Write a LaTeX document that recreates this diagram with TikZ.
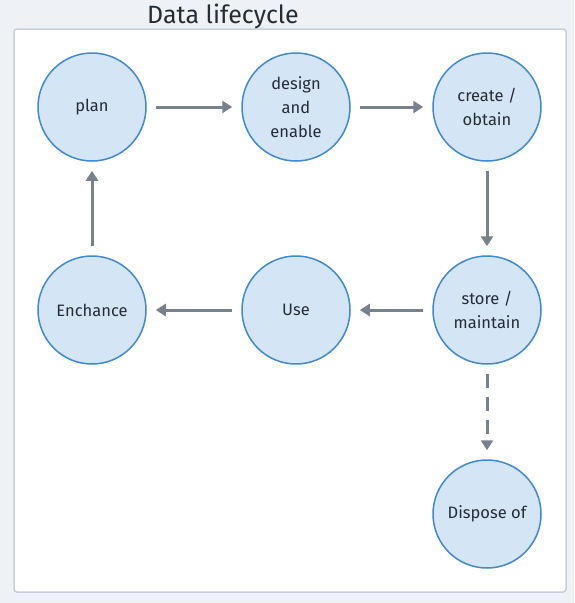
\documentclass[tikz,border=0pt]{standalone}
\usepackage{fontspec}
\setmainfont{Fira Sans}
\usetikzlibrary{arrows.meta}
\definecolor{bgc}{HTML}{EEF2F6}
\definecolor{panelb}{HTML}{C9CFD5}
\definecolor{nodefill}{HTML}{D4E5F6}
\definecolor{nodeline}{HTML}{3F8AD0}
\definecolor{arrc}{HTML}{77828D}
\definecolor{txt}{HTML}{242C36}
\tikzset{
  stage/.style={circle, draw=nodeline, line width=1.5pt, fill=nodefill, minimum size=108pt, inner sep=0pt, align=center, font=\fontsize{16.5}{24}\selectfont, text=txt},
  flow/.style={draw=arrc, line width=3pt, -{Triangle[length=10pt,width=12pt]}, shorten >=9pt, shorten <=9pt},
  optflow/.style={flow, dash pattern=on 14pt off 9pt}
}
\begin{document}
\begin{tikzpicture}[x=1pt,y=-1pt]
\useasboundingbox (0,0) rectangle (574,603);
\fill[bgc] (0,0) rectangle (574,603);
\draw[panelb, fill=white, line width=1.5pt, rounded corners=3pt] (14,29) rectangle (566,592);
\node[font=\fontsize{25}{30}\selectfont, text=txt] (title) at (223,16) {Data lifecycle};
\node[stage] (plan) at (92,107) {plan};
\node[stage] (design) at (296,107) {design\\and\\enable};
\node[stage] (create) at (487,107) {create /\\obtain};
\node[stage] (store) at (487,310) {store /\\maintain};
\node[stage] (use) at (296,310) {Use};
\node[stage] (enh) at (92,310) {Enchance};
\node[stage] (disp) at (487,514) {Dispose of};
\draw[flow] (plan) -- (design);
\draw[flow] (design) -- (create);
\draw[flow] (create) -- (store);
\draw[flow] (store) -- (use);
\draw[flow] (use) -- (enh);
\draw[flow] (enh) -- (plan);
\draw[optflow] (store) -- (disp);
\end{tikzpicture}
\end{document}
